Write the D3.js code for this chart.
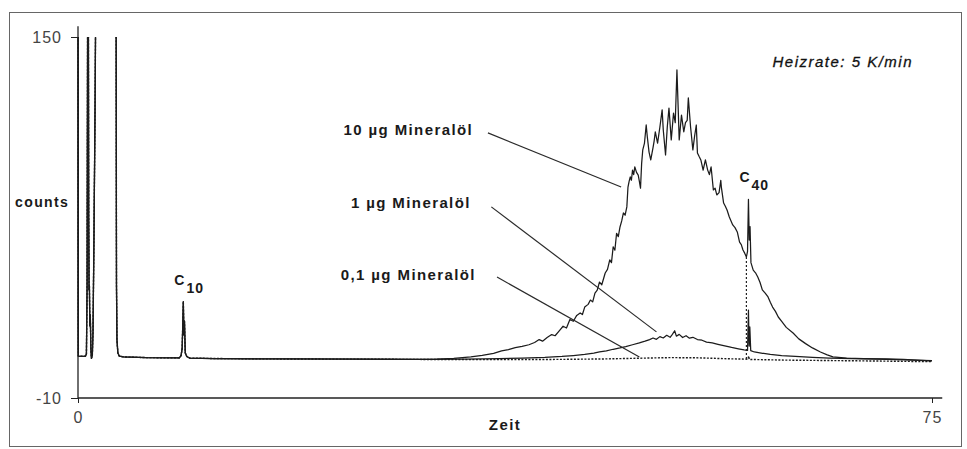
<!DOCTYPE html>
<html>
<head>
<meta charset="utf-8">
<script src="https://cdn.jsdelivr.net/npm/d3@7"></script>
<style>
  body { margin: 0; background: #fff; }
  svg text { font-family: "Liberation Sans", Arial, sans-serif; }
</style>
</head>
<body>
<div id="chart"></div>
<script>
// tick labels
var xTicks = [0, 75];
var yTicks = [-10, 150];

// solvent peaks, C10 and the flat baseline, common to all three runs
var startTrace = [[0, 200], [0.03, 8.6], [0.65, 8.5], [0.74, 9.5], [0.8, 40], [0.86, 200], [0.9, 200],
  [0.94, 70], [0.97, 38], [1.0, 40], [1.04, 22], [1.08, 27], [1.13, 12], [1.18, 7.6], [1.26, 9],
  [1.32, 20], [1.4, 60], [1.5, 120], [1.6, 200], [3.34, 200], [3.38, 40], [3.42, 16], [3.5, 10],
  [3.62, 8.6], [4.0, 8.2], [6.0, 7.9], [8.9, 7.8], [9.05, 8.8], [9.15, 12], [9.25, 32.7], [9.3, 18],
  [9.35, 24], [9.42, 10], [9.55, 8.4], [9.8, 7.7], [12, 7.5], [18, 7.3], [25, 7.2], [30, 7.1]];

// 10 µg Mineralöl
var trace10 = [[31.5, 7.2], [33, 7.6], [34.5, 8.2], [35.5, 8.9], [36.5, 9.8], [37.2, 10.9], [37.8, 11.4],
  [38.4, 12.3], [39, 12.9], [39.6, 13.6], [40.1, 14.6], [40.5, 15.9], [40.8, 15.2], [41.2, 16.8],
  [41.6, 18.1], [41.9, 17.6], [42.3, 20.0], [42.6, 21.8], [42.9, 21.0], [43.2, 24.8], [43.5, 24.0],
  [43.8, 26.6], [44.1, 27.7], [44.3, 27.0], [44.5, 30.3], [44.8, 31.5], [45.0, 33.4], [45.2, 32.6],
  [45.4, 36.5], [45.6, 37.8], [45.8, 41.4], [46.0, 40.2], [46.3, 45.4], [46.5, 47.0], [46.7, 51.2],
  [46.85, 50.0], [47.0, 57], [47.15, 55.5], [47.3, 63], [47.45, 61.5], [47.6, 65.8], [47.75, 68.5],
  [47.9, 72], [48.05, 71], [48.2, 74.7], [48.3, 83.5], [48.4, 86], [48.5, 88], [48.6, 86.5], [48.7, 91],
  [48.8, 89], [48.9, 92.4], [49.05, 90], [49.2, 88.8], [49.3, 86], [49.4, 83], [49.5, 94], [49.6, 100],
  [49.75, 103], [49.9, 111], [50.0, 105.7], [50.15, 99], [50.3, 95.5], [50.5, 101], [50.6, 104],
  [50.7, 108], [50.9, 103], [51.1, 110], [51.3, 117.7], [51.4, 108.8], [51.6, 97.7], [51.75, 110],
  [51.9, 118.5], [52.1, 104.4], [52.3, 116.3], [52.45, 112], [52.6, 135.4], [52.8, 104.4], [53.0, 115.4],
  [53.2, 108], [53.35, 112], [53.5, 113], [53.6, 123], [53.8, 110], [54.0, 100], [54.15, 106], [54.3, 111],
  [54.4, 98.6], [54.55, 97], [54.7, 95.5], [54.9, 91], [55.1, 95.5], [55.3, 91], [55.45, 89], [55.6, 92.4],
  [55.8, 82.2], [55.95, 83], [56.1, 80], [56.3, 81], [56.45, 86.5], [56.5, 83.5], [56.7, 76.4], [56.85, 75],
  [57.0, 73.3], [57.2, 70.2], [57.35, 68.5], [57.5, 66.7], [57.7, 65.5], [57.9, 63.6], [58.1, 59.1],
  [58.25, 58], [58.4, 55.6], [58.55, 54.2], [58.7, 52.5], [58.8, 55], [58.88, 78], [58.95, 60], [59.02, 66],
  [59.1, 50], [59.3, 46.7], [59.5, 45.5], [59.7, 43.6], [59.9, 41.2], [60.1, 37.9], [60.35, 36.5],
  [60.6, 34.8], [60.8, 32.4], [61.0, 30.3], [61.25, 28.4], [61.5, 25.9], [61.8, 24.0], [62.2, 21.3],
  [62.8, 18.8], [63.3, 16.2], [63.9, 14.1], [64.5, 12.2], [65.2, 10.4], [65.8, 9.1], [66.3, 8.2],
  [67.5, 7.7], [69, 7.5], [71, 7.3], [72.5, 7.1], [74, 6.7], [75, 6.4]];

// 1 µg Mineralöl
var trace1 = [[34, 7.2], [37, 7.4], [39, 7.7], [41, 8.0], [42.5, 8.4], [43.5, 8.8], [44.5, 9.3], [45.3, 9.9],
  [45.8, 10.4], [46.4, 10.9], [47.0, 11.6], [47.6, 12.2], [48.1, 12.8], [48.7, 13.6], [49.3, 14.4],
  [49.8, 15.2], [50.2, 15.9], [50.5, 16.6], [50.8, 16.0], [51.1, 17.2], [51.4, 16.6], [51.7, 17.8],
  [52.0, 16.9], [52.2, 18.2], [52.4, 19.8], [52.55, 17.4], [52.8, 18.2], [53.1, 16.8], [53.4, 17.6],
  [53.7, 16.5], [54.0, 16.9], [54.4, 15.9], [54.8, 15.6], [55.2, 14.8], [55.7, 14.4], [56.2, 13.8],
  [56.8, 13.1], [57.4, 12.4], [58.0, 11.8], [58.5, 11.3], [58.8, 11.1], [58.88, 29], [58.94, 13],
  [59.0, 21.5], [59.08, 11], [59.4, 10.4], [60.0, 9.9], [60.8, 9.3], [61.8, 8.8], [63, 8.4], [64.5, 8.0],
  [66, 7.7], [68, 7.4], [71, 7.1], [75, 6.6]];

// 0,1 µg Mineralöl
var trace01 = [[36, 7.0], [42, 7.1], [46, 7.3], [49, 7.6], [52, 7.9], [54.5, 7.8], [57, 7.4], [58.85, 7.2],
  [58.9, 8.6], [58.95, 7.1], [62, 6.8], [66, 6.6], [70, 6.4], [75, 6.1]];

var runNames = ["10 µg Mineralöl", "1 µg Mineralöl", "0,1 µg Mineralöl"];
var runTraces = [trace10, trace1, trace01];

// label anchors and leader lines, in data units (Zeit, counts)
var labelAt = [[34.7, 106.4], [34.5, 74.0], [34.95, 42.1]];
var leaderFrom = [[36.0, 107.5], [36.3, 74.7], [36.8, 43.6]];
var leaderTo = [[47.7, 83.5], [50.8, 19.3], [49.3, 8.2]];

// n-alkane markers
var alkaneNames = ["10", "40"];
var alkaneTimes = [9.25, 58.88];
var dropLineTime = 58.7;

var W = 967, H = 449;

var svg = d3.select("#chart")
  .append("svg")
  .attr("width", W)
  .attr("height", H);

// outer frame
svg.append("rect")
  .attr("x", 9.5).attr("y", 12.5)
  .attr("width", 952).attr("height", 434)
  .attr("fill", "none")
  .attr("stroke", "#666")
  .attr("stroke-width", 1);

var x = d3.scaleLinear().domain([0, 75]).range([78, 932]);
var y = d3.scaleLinear().domain([-10, 150]).range([398, 37]);

// plain hyphen for negative ticks, like the original
var fmt = function (d) { return String(d); };

// clip traces at the top of the scale
svg.append("clipPath").attr("id", "plot")
  .append("rect")
  .attr("x", x(0) - 1).attr("y", y(150))
  .attr("width", x(75) - x(0) + 2).attr("height", y(-10) - y(150));

// X axis
var xAxis = svg.append("g")
  .attr("transform", "translate(0," + y(-10) + ")")
  .call(d3.axisBottom(x).tickValues(xTicks).tickSize(5).tickPadding(9).tickFormat(fmt));
xAxis.select(".domain").remove();
xAxis.append("line")
  .attr("x1", x(0)).attr("x2", x(75.9))
  .attr("stroke", "#222").attr("stroke-width", 1.3);

// Y axis
var yAxis = svg.append("g")
  .attr("transform", "translate(" + x(0) + ",0)")
  .call(d3.axisLeft(y).tickValues(yTicks).tickSize(7).tickPadding(9).tickFormat(fmt));
yAxis.select(".domain").remove();
yAxis.append("line")
  .attr("y1", y(-10)).attr("y2", y(154.8))
  .attr("stroke", "#222").attr("stroke-width", 1.3);

svg.selectAll(".tick line").attr("stroke", "#222");
svg.selectAll(".tick text")
  .attr("fill", "#444")
  .style("font-size", "16px")
  .style("letter-spacing", "1px");

var line = d3.line()
  .x(function (d) { return x(d[0]); })
  .y(function (d) { return y(d[1]); });

var traces = svg.append("g").attr("clip-path", "url(#plot)");

// draw the small runs first, the 10 µg run on top
[2, 1, 0].forEach(function (i) {
  traces.append("path")
    .datum(startTrace.concat(runTraces[i]))
    .attr("fill", "none")
    .attr("stroke", "#1c1c1c")
    .attr("stroke-width", i === 2 ? 1.4 : 1.25)
    .attr("stroke-dasharray", i === 2 ? "2,1.5" : null)
    .attr("stroke-linejoin", "round")
    .attr("d", line);
});

// dotted drop line under C40
function valueAt(tr, t) {
  var pts = startTrace.concat(tr);
  var i = d3.bisector(function (d) { return d[0]; }).left(pts, t);
  var a = pts[Math.max(i - 1, 0)], b = pts[Math.min(i, pts.length - 1)];
  if (b[0] === a[0]) return a[1];
  return a[1] + (b[1] - a[1]) * (t - a[0]) / (b[0] - a[0]);
}
svg.append("line")
  .attr("x1", x(dropLineTime)).attr("x2", x(dropLineTime))
  .attr("y1", y(valueAt(trace10, dropLineTime)))
  .attr("y2", y(valueAt(trace01, dropLineTime)))
  .attr("stroke", "#222")
  .attr("stroke-width", 1.2)
  .attr("stroke-dasharray", "2,2");

// run labels with leader lines
runNames.forEach(function (name, i) {
  svg.append("text")
    .attr("x", x(labelAt[i][0]))
    .attr("y", y(labelAt[i][1]))
    .attr("text-anchor", "end")
    .style("font-size", "15px")
    .style("font-weight", "bold")
    .style("letter-spacing", "1.4px")
    .attr("fill", "#1a1a1a")
    .text(name);
  svg.append("line")
    .attr("x1", x(leaderFrom[i][0])).attr("y1", y(leaderFrom[i][1]))
    .attr("x2", x(leaderTo[i][0])).attr("y2", y(leaderTo[i][1]))
    .attr("stroke", "#2a2a2a")
    .attr("stroke-width", 1.2);
});

// alkane labels above their peaks
var peakSources = [startTrace, trace10];
alkaneNames.forEach(function (n, i) {
  var top = d3.max(peakSources[i], function (d) {
    return Math.abs(d[0] - alkaneTimes[i]) < 0.05 ? d[1] : -Infinity;
  });
  var t = svg.append("text")
    .attr("x", x(alkaneTimes[i]) - 9)
    .attr("y", y(top) - 17)
    .attr("fill", "#1a1a1a")
    .style("font-size", "14px")
    .style("font-weight", "bold");
  t.append("tspan").text("C");
  t.append("tspan")
    .attr("dx", 2)
    .attr("dy", 8)
    .style("letter-spacing", "1px")
    .text(n);
});

// axis titles and note
svg.append("text")
  .attr("x", 15).attr("y", 207)
  .style("font-size", "14px")
  .style("font-weight", "bold")
  .style("letter-spacing", "1.4px")
  .attr("fill", "#1a1a1a")
  .text("counts");

svg.append("text")
  .attr("x", 505).attr("y", 430)
  .attr("text-anchor", "middle")
  .style("font-size", "15px")
  .style("font-weight", "bold")
  .style("letter-spacing", "1.4px")
  .attr("fill", "#1a1a1a")
  .text("Zeit");

svg.append("text")
  .attr("x", 913).attr("y", 67)
  .attr("text-anchor", "end")
  .style("font-size", "15px")
  .style("font-style", "italic")
  .style("letter-spacing", "1.5px")
  .attr("fill", "#111")
  .attr("stroke", "#111")
  .attr("stroke-width", 0.3)
  .text("Heizrate: 5 K/min");
</script>
</body>
</html>
